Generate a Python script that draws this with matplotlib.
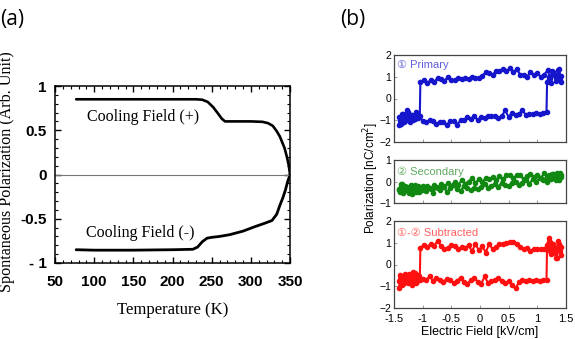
import matplotlib
matplotlib.use("Agg")
import matplotlib.pyplot as plt
from matplotlib.ticker import MultipleLocator

# ---------------- Panel (a) data ----------------
T_plus = [77, 100, 150, 200, 230, 238, 245, 252, 258, 263, 267, 280, 300, 315,
          322, 328, 333, 337, 343, 346, 348.5, 350]
P_plus = [0.85, 0.85, 0.85, 0.85, 0.85, 0.845, 0.82, 0.76, 0.69, 0.63, 0.60,
          0.60, 0.60, 0.595, 0.58, 0.55, 0.49, 0.43, 0.30, 0.20, 0.10, 0.0]
T_minus = [77, 100, 150, 200, 226, 232, 238, 244, 250, 260, 273, 290, 305, 318,
           327, 333, 337, 341, 344, 347, 349, 350]
P_minus = [-0.85, -0.855, -0.855, -0.85, -0.845, -0.82, -0.76, -0.72, -0.71,
           -0.70, -0.68, -0.64, -0.59, -0.55, -0.52, -0.45, -0.35, -0.26,
           -0.18, -0.08, -0.03, 0.0]
x_ticks_a = [50, 100, 150, 200, 250, 300, 350]
y_ticks_a = [-1, -0.5, 0, 0.5, 1]
y_ticklabels_a = ["- 1", "-0.5", "0", "0.5", "1"]

# ---------------- Panel (b) data ----------------
E_up = [-1.42, -1.38, -1.34, -1.30, -1.26,
        -1.22, -1.18, -1.14, -1.10, -1.06,
        -1.00, -0.94, -0.88, -0.82, -0.76,
        -0.70, -0.64, -0.58, -0.52, -0.46,
        -0.40, -0.34, -0.28, -0.22, -0.16,
        -0.10, -0.04, 0.02, 0.08, 0.14,
        0.20, 0.26, 0.32, 0.38, 0.44,
        0.50, 0.56, 0.62, 0.68, 0.74,
        0.80, 0.86, 0.92, 0.98, 1.04,
        1.10, 1.16, 1.17, 1.20, 1.24,
        1.28, 1.32, 1.36, 1.40, 1.42]
E_down = [1.42, 1.38, 1.34, 1.30, 1.26,
          1.22, 1.18, 1.12, 1.06, 1.00,
          0.94, 0.88, 0.82, 0.76, 0.70,
          0.64, 0.58, 0.52, 0.46, 0.40,
          0.34, 0.28, 0.22, 0.16, 0.10,
          0.04, -0.02, -0.08, -0.14, -0.20,
          -0.26, -0.32, -0.38, -0.44, -0.50,
          -0.56, -0.62, -0.68, -0.74, -0.80,
          -0.86, -0.92, -0.98, -1.04, -1.05,
          -1.08, -1.12, -1.16, -1.20, -1.24,
          -1.28, -1.32, -1.36, -1.40, -1.42]

primary_up = [-0.85, -1.15, -0.70, -1.05, -0.60,
              -1.10, -0.75, -0.95, -0.65, -0.80,
              -1.05, -1.10, -1.00, -1.05, -1.15,
              -1.10, -1.10, -1.20, -1.05, -1.05,
              -1.20, -1.00, -1.00, -0.85, -0.95,
              -0.80, -1.00, -0.85, -0.90, -0.80,
              -0.80, -0.80, -0.90, -0.80, -0.55,
              -0.85, -0.65, -0.75, -0.70, -0.55,
              -0.75, -0.70, -0.70, -0.65, -0.70,
              -0.65, -0.60, 0.75, 1.00, 0.70,
              1.20, 0.80, 1.30, 0.85, 1.05]
primary_down = [0.75, 1.35, 0.90, 1.10, 1.25,
                0.95, 1.30, 1.10, 1.00, 1.15,
                1.10, 1.20, 1.00, 1.10, 1.10,
                1.35, 1.20, 1.40, 1.25, 1.35,
                1.25, 1.25, 1.10, 1.15, 1.20,
                1.05, 0.95, 0.95, 1.00, 0.90,
                0.95, 0.90, 0.95, 0.85, 0.85,
                1.00, 0.80, 0.90, 0.95, 0.75,
                0.85, 0.70, 0.85, 0.75, -0.80,
                -0.90, -0.60, -1.00, -0.75, -0.95,
                -0.55, -1.10, -0.70, -1.00, -1.20]

secondary_up = [-0.40, -0.10, -0.55, -0.20, -0.45,
                -0.30, -0.60, -0.15, -0.35, -0.50,
                -0.20, -0.45, -0.30, -0.55, -0.25,
                -0.40, -0.20, -0.50, -0.30, -0.15,
                -0.35, -0.45, -0.20, -0.30, -0.40,
                -0.30, -0.35, -0.25, -0.10, -0.30,
                -0.20, -0.10, -0.25, -0.05, -0.15,
                -0.20, -0.05, 0.00, -0.15, -0.05,
                0.05, -0.10, 0.10, 0.00, 0.15,
                0.05, 0.20, 0.00, 0.30, 0.10,
                0.35, 0.05, 0.25, 0.40, 0.20]
secondary_down = [0.30, 0.05, 0.40, 0.15, 0.35,
                  0.10, 0.25, 0.40, 0.15, 0.30,
                  0.20, 0.35, 0.25, 0.10, 0.30,
                  0.30, 0.15, 0.30, 0.30, 0.10,
                  0.25, 0.05, 0.20, 0.10, 0.15,
                  0.00, 0.10, -0.05, 0.15, 0.00,
                  -0.10, 0.05, -0.15, 0.00, -0.20,
                  -0.05, -0.25, -0.10, -0.30, -0.15,
                  -0.35, -0.20, -0.40, -0.25, -0.45,
                  -0.20, -0.50, -0.30, -0.15, -0.55,
                  -0.25, -0.45, -0.10, -0.50, -0.35]

subtracted_up = [-1.10, -0.60, -0.90, -0.45, -0.85,
                 -0.55, -0.95, -0.40, -0.75, -0.55,
                 -0.65, -0.70, -0.55, -0.75, -0.60,
                 -0.70, -0.80, -0.65, -0.70, -0.85,
                 -0.75, -0.60, -0.80, -0.90, -0.70,
                 -0.60, -0.80, -0.90, -0.55, -0.85,
                 -0.75, -0.70, -0.60, -0.75, -0.85,
                 -0.75, -0.95, -1.10, -0.80, -0.70,
                 -0.75, -0.70, -0.75, -0.70, -0.75,
                 -0.70, -0.70, 0.90, 1.20, 0.50,
                 0.95, 0.30, 1.10, 0.60, 0.80]
subtracted_down = [0.45, 0.95, 0.30, 0.75, 0.55,
                   1.05, 0.65, 0.70, 0.70, 0.70,
                   0.70, 0.60, 0.75, 0.70, 0.80,
                   0.95, 1.05, 1.05, 1.00, 0.95,
                   0.95, 0.80, 0.70, 0.95, 0.55,
                   0.85, 0.65, 0.95, 0.60, 0.90,
                   0.75, 0.80, 0.70, 0.85, 0.90,
                   0.75, 0.70, 0.85, 1.10, 0.85,
                   0.95, 0.80, 0.90, 0.75, -0.70,
                   -0.50, -0.85, -0.35, -0.75, -0.45,
                   -0.80, -0.60, -0.95, -0.50, -0.75]

x_ticks_b = [-1.5, -1, -0.5, 0, 0.5, 1, 1.5]
x_ticklabels_b = ["-1.5", "-1", "-0.5", "0", "0.5", "1", "1.5"]

# ---------------- Figure ----------------
fig = plt.figure(figsize=(5.75, 3.39), dpi=100)

serif = ["Liberation Serif", "DejaVu Serif"]
sans = ["Liberation Sans", "DejaVu Sans"]

# Panel (a)
axa = fig.add_axes([55/575, (339-263)/339, 235/575, 177/339])
axa.plot(T_plus, P_plus, color="black", lw=1.9, solid_capstyle="round")
axa.plot(T_minus, P_minus, color="black", lw=2.0, solid_capstyle="round")
axa.axhline(0, color="#777777", lw=0.8)
axa.set_xlim(50, 350)
axa.set_ylim(-1, 1)
axa.set_xticks(x_ticks_a)
axa.set_yticks(y_ticks_a)
axa.set_yticklabels(y_ticklabels_a)
axa.xaxis.set_minor_locator(MultipleLocator(10))
axa.yaxis.set_minor_locator(MultipleLocator(0.1))
axa.tick_params(which="both", direction="in", top=True, right=True)
axa.tick_params(which="major", length=4, width=1)
axa.tick_params(which="minor", length=2.2, width=0.8)
axa.tick_params(axis="x", pad=9)
axa.tick_params(axis="y", pad=6)
for lab in axa.get_xticklabels() + axa.get_yticklabels():
    lab.set_fontfamily(sans)
    lab.set_fontweight("bold")
    lab.set_fontsize(11)
for sp in axa.spines.values():
    sp.set_linewidth(1.1)
axa.set_xlabel("Temperature (K)", family=serif, fontsize=12, labelpad=9)
fig.text(0.012, (339-172)/339, "Spontaneous Polarization (Arb. Unit)",
         family=serif, fontsize=11.6, rotation=90, ha="center", va="center")
axa.text(91, 0.655, "Cooling Field (+)", family=serif, fontsize=11.5,
         ha="left", va="center")
axa.text(90, -0.665, "Cooling Field (-)", family=serif, fontsize=11.5,
         ha="left", va="center")

fig.text(0.0, (339-20)/339, "(a)", family=["Open Sans", "DejaVu Sans"],
         fontsize=15, ha="left", va="center")
fig.text(340/575, (339-20)/339, "(b)", family=["Open Sans", "DejaVu Sans"],
         fontsize=15, ha="left", va="center")

# Panel (b)
left_b = 394/575
width_b = 172/575
ax1 = fig.add_axes([left_b, (339-142)/339, width_b, 87/339])
ax2 = fig.add_axes([left_b, (339-203)/339, width_b, 43/339])
ax3 = fig.add_axes([left_b, (339-308)/339, width_b, 87/339])

specs = [
    (ax1, primary_up, primary_down, "#1515cc", "① Primary", "#6060dd", (-2, 2), [-2, -1, 0, 1, 2], 0.885),
    (ax2, secondary_up, secondary_down, "#118811", "② Secondary", "#60a860", (-1, 1), [-1, 0, 1], 0.73),
    (ax3, subtracted_up, subtracted_down, "#ff1010", "①-② Subtracted", "#ff6060", (-2, 2), [-2, -1, 0, 1, 2], 0.865),
]
for ax, up, down, col, lab, labcol, ylim, yt, ly in specs:
    ax.plot(E_up + E_down, up + down, color=col, lw=1.5, marker="o",
            ms=3.0, mec=col, mfc=col)
    ax.set_xlim(-1.5, 1.5)
    ax.set_ylim(*ylim)
    ax.set_yticks(yt)
    ax.set_xticks(x_ticks_b)
    ax.tick_params(direction="in", length=2.5, width=0.6, color="#888888",
                   labelsize=7.5, pad=2)
    for l in ax.get_yticklabels():
        l.set_fontfamily(sans)
    for sp in ax.spines.values():
        sp.set_linewidth(0.9)
        sp.set_color("#444444")
    ax.text(0.02, ly, lab, transform=ax.transAxes, color=labcol,
            family=sans, fontsize=8, ha="left", va="center")

ax1.set_xticklabels([])
ax2.set_xticklabels([])
ax3.set_xticklabels(x_ticklabels_b, family=sans)
ax3.tick_params(axis="x", pad=4.5, labelsize=8)
ax3.set_xlabel("Electric Field [kV/cm]", family=sans, fontsize=9, labelpad=1)
fig.text(371/575, (339-178)/339, "Polarization [nC/cm$^2$]", family=sans,
         fontsize=8.5, rotation=90, ha="center", va="center")

fig.savefig("out.png", dpi=100)
